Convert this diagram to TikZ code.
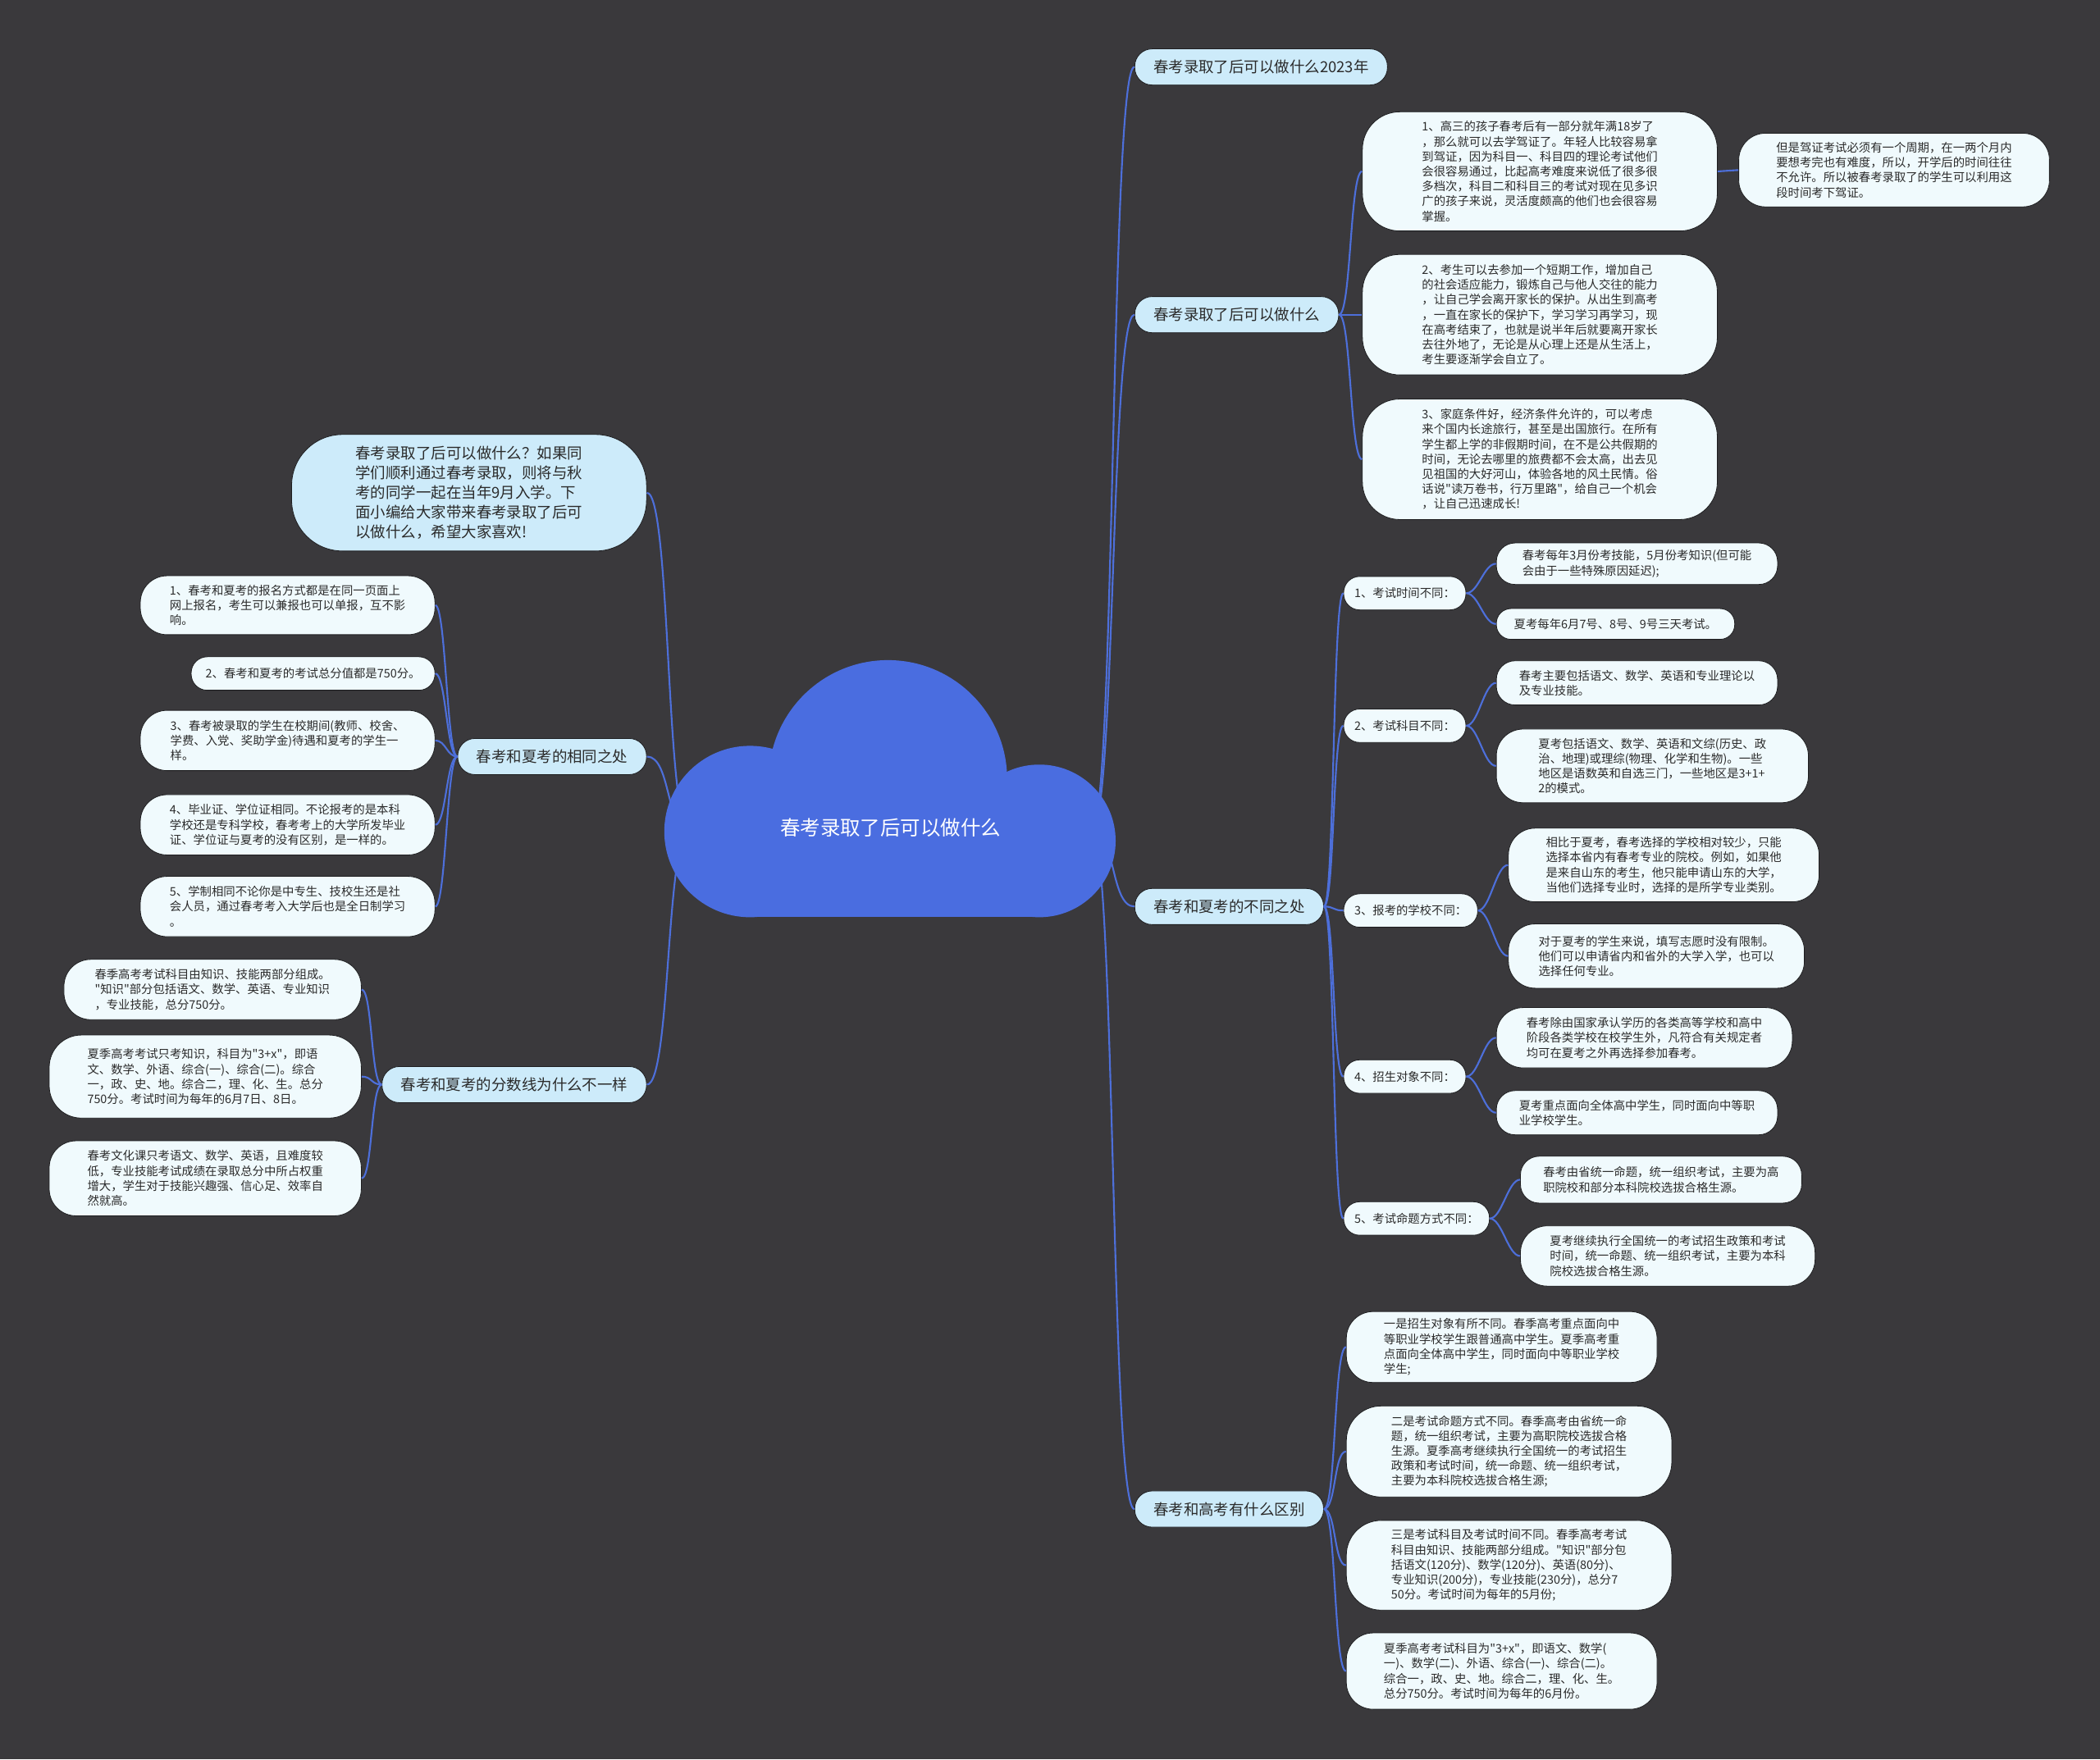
\documentclass[tikz,border=0pt]{standalone}
\usepackage{fontspec}
\newfontfamily\cjk{Noto Sans CJK SC}
\definecolor{bg}{HTML}{3A393C}
\definecolor{ink}{HTML}{2B2B2B}
\definecolor{linkblue}{HTML}{4D6FDA}
\definecolor{cloudblue}{HTML}{4A6DE0}
\definecolor{sky}{HTML}{CDEBFA}
\definecolor{pale}{HTML}{F0FAFD}
\definecolor{rim}{HTML}{1E1E20}

\begin{document}
\begin{tikzpicture}[
  x=1pt, y=-1pt,
  main/.style={fill=sky,draw=rim,line width=.5pt,rounded corners=13,
    inner xsep=14,minimum height=27,text=ink,
    font=\cjk\fontsize{11.3}{14}\selectfont},
  intro/.style={main,align=left,rounded corners=38,
    font=\cjk\fontsize{11.3}{14.8}\selectfont},
  leaf/.style={fill=pale,draw=rim,line width=.5pt,rounded corners=20,
    align=left,inner xsep=6,inner ysep=5,text=ink,
    font=\cjk\fontsize{8.8}{11.15}\selectfont},
  sub/.style={leaf,rounded corners=12,minimum height=25,inner xsep=8},
  link/.style={draw=linkblue,line width=1.3pt}
]
  \fill[bg] (0,0) rectangle (1568,1314);
  \useasboundingbox (0,0) rectangle (1568,1314);

  % right side
  \node[main,anchor=west] (r1) at (847,50) {春考录取了后可以做什么2023年};
  \node[main,anchor=west] (r2) at (847,235) {春考录取了后可以做什么};
  \node[main,anchor=west] (r3) at (847,677) {春考和夏考的不同之处};
  \node[main,anchor=west] (r4) at (847,1127) {春考和高考有什么区别};

  \node[leaf,anchor=west,minimum width=265,minimum height=89,rounded corners=28] (a1) at (1017,128)
    {1、高三的孩子春考后有一部分就年满18岁了\\，那么就可以去学驾证了。年轻人比较容易拿\\到驾证，因为科目一、科目四的理论考试他们\\会很容易通过，比起高考难度来说低了很多很\\多档次，科目二和科目三的考试对现在见多识\\广的孩子来说，灵活度颇高的他们也会很容易\\掌握。};
  \node[leaf,anchor=west,minimum width=232,minimum height=55] (a1b) at (1298,127)
    {但是驾证考试必须有一个周期，在一两个月内\\要想考完也有难度，所以，开学后的时间往往\\不允许。所以被春考录取了的学生可以利用这\\段时间考下驾证。};
  \node[leaf,anchor=west,minimum width=265,minimum height=90,rounded corners=28] (a2) at (1017,235)
    {2、考生可以去参加一个短期工作，增加自己\\的社会适应能力，锻炼自己与他人交往的能力\\，让自己学会离开家长的保护。从出生到高考\\，一直在家长的保护下，学习学习再学习，现\\在高考结束了，也就是说半年后就要离开家长\\去往外地了，无论是从心理上还是从生活上，\\考生要逐渐学会自立了。};
  \node[leaf,anchor=west,minimum width=265,minimum height=90,rounded corners=28] (a3) at (1017,343)
    {3、家庭条件好，经济条件允许的，可以考虑\\来个国内长途旅行，甚至是出国旅行。在所有\\学生都上学的非假期时间，在不是公共假期的\\时间，无论去哪里的旅费都不会太高，出去见\\见祖国的大好河山，体验各地的风土民情。俗\\话说"读万卷书，行万里路"，给自己一个机会\\，让自己迅速成长!};

  \node[sub,anchor=west] (d1) at (1003,443) {1、考试时间不同：};
  \node[sub,anchor=west] (d2) at (1003,542) {2、考试科目不同：};
  \node[sub,anchor=west] (d3) at (1003,680) {3、报考的学校不同：};
  \node[sub,anchor=west] (d4) at (1003,804) {4、招生对象不同：};
  \node[sub,anchor=west] (d5) at (1003,910) {5、考试命题方式不同：};

  \node[leaf,anchor=west,minimum width=210,minimum height=31,rounded corners=14] (d1a) at (1117,421)
    {春考每年3月份考技能，5月份考知识(但可能\\会由于一些特殊原因延迟);};
  \node[leaf,anchor=west,minimum width=178,minimum height=23,rounded corners=11] (d1b) at (1117,466)
    {夏考每年6月7号、8号、9号三天考试。};
  \node[leaf,anchor=west,minimum width=210,minimum height=33,rounded corners=14] (d2a) at (1117,510)
    {春考主要包括语文、数学、英语和专业理论以\\及专业技能。};
  \node[leaf,anchor=west,minimum width=233,minimum height=55] (d2b) at (1117,572)
    {夏考包括语文、数学、英语和文综(历史、政\\治、地理)或理综(物理、化学和生物)。一些\\地区是语数英和自选三门，一些地区是3+1+\\2的模式。};
  \node[leaf,anchor=west,minimum width=232,minimum height=55] (d3a) at (1126,646)
    {相比于夏考，春考选择的学校相对较少，只能\\选择本省内有春考专业的院校。例如，如果他\\是来自山东的考生，他只能申请山东的大学，\\当他们选择专业时，选择的是所学专业类别。};
  \node[leaf,anchor=west,minimum width=221,minimum height=48] (d3b) at (1126,714)
    {对于夏考的学生来说，填写志愿时没有限制。\\他们可以申请省内和省外的大学入学，也可以\\选择任何专业。};
  \node[leaf,anchor=west,minimum width=221,minimum height=45] (d4a) at (1117,775)
    {春考除由国家承认学历的各类高等学校和高中\\阶段各类学校在校学生外，凡符合有关规定者\\均可在夏考之外再选择参加春考。};
  \node[leaf,anchor=west,minimum width=210,minimum height=33,rounded corners=14] (d4b) at (1117,831)
    {夏考重点面向全体高中学生，同时面向中等职\\业学校学生。};
  \node[leaf,anchor=west,minimum width=210,minimum height=35,rounded corners=14] (d5a) at (1135,881)
    {春考由省统一命题，统一组织考试，主要为高\\职院校和部分本科院校选拔合格生源。};
  \node[leaf,anchor=west,minimum width=220,minimum height=45] (d5b) at (1135,938)
    {夏考继续执行全国统一的考试招生政策和考试\\时间，统一命题、统一组织考试，主要为本科\\院校选拔合格生源。};

  \node[leaf,anchor=west,minimum width=232,minimum height=53] (b1) at (1005,1006)
    {一是招生对象有所不同。春季高考重点面向中\\等职业学校学生跟普通高中学生。夏季高考重\\点面向全体高中学生，同时面向中等职业学校\\学生;};
  \node[leaf,anchor=west,minimum width=243,minimum height=68,rounded corners=26] (b2) at (1005,1084)
    {二是考试命题方式不同。春季高考由省统一命\\题，统一组织考试，主要为高职院校选拔合格\\生源。夏季高考继续执行全国统一的考试招生\\政策和考试时间，统一命题、统一组织考试，\\主要为本科院校选拔合格生源;};
  \node[leaf,anchor=west,minimum width=243,minimum height=67,rounded corners=26] (b3) at (1005,1169)
    {三是考试科目及考试时间不同。春季高考考试\\科目由知识、技能两部分组成。"知识"部分包\\括语文(120分)、数学(120分)、英语(80分)、\\专业知识(200分)，专业技能(230分)，总分7\\50分。考试时间为每年的5月份;};
  \node[leaf,anchor=west,minimum width=232,minimum height=57] (b4) at (1005,1248)
    {夏季高考考试科目为"3+x"，即语文、数学(\\一)、数学(二)、外语、综合(一)、综合(二)。\\综合一，政、史、地。综合二，理、化、生。\\总分750分。考试时间为每年的6月份。};

  % left side
  \node[intro,anchor=east,minimum width=265,minimum height=87] (l0) at (483,368)
    {春考录取了后可以做什么？如果同\\学们顺利通过春考录取，则将与秋\\考的同学一起在当年9月入学。下\\面小编给大家带来春考录取了后可\\以做什么，希望大家喜欢!};
  \node[main,anchor=east] (l1) at (483,565) {春考和夏考的相同之处};
  \node[main,anchor=east] (l2) at (483,810) {春考和夏考的分数线为什么不一样};

  \node[leaf,anchor=east,minimum width=220,minimum height=44] (s1) at (325,452)
    {1、春考和夏考的报名方式都是在同一页面上\\网上报名，考生可以兼报也可以单报，互不影\\响。};
  \node[leaf,anchor=east,minimum width=182,minimum height=25,rounded corners=12] (s2) at (325,503)
    {2、春考和夏考的考试总分值都是750分。};
  \node[leaf,anchor=east,minimum width=220,minimum height=45] (s3) at (325,553)
    {3、春考被录取的学生在校期间(教师、校舍、\\学费、入党、奖助学金)待遇和夏考的学生一\\样。};
  \node[leaf,anchor=east,minimum width=220,minimum height=45] (s4) at (325,616)
    {4、毕业证、学位证相同。不论报考的是本科\\学校还是专科学校，春考考上的大学所发毕业\\证、学位证与夏考的没有区别，是一样的。};
  \node[leaf,anchor=east,minimum width=220,minimum height=45] (s5) at (325,677)
    {5、学制相同不论你是中专生、技校生还是社\\会人员，通过春考考入大学后也是全日制学习\\。};

  \node[leaf,anchor=east,minimum width=222,minimum height=45] (f1) at (270,739)
    {春季高考考试科目由知识、技能两部分组成。\\"知识"部分包括语文、数学、英语、专业知识\\，专业技能，总分750分。};
  \node[leaf,anchor=east,minimum width=233,minimum height=62,rounded corners=24] (f2) at (270,804)
    {夏季高考考试只考知识，科目为"3+x"，即语\\文、数学、外语、综合(一)、综合(二)。综合\\一，政、史、地。综合二，理、化、生。总分\\750分。考试时间为每年的6月7日、8日。};
  \node[leaf,anchor=east,minimum width=233,minimum height=56] (f3) at (270,880)
    {春考文化课只考语文、数学、英语，且难度较\\低，专业技能考试成绩在录取总分中所占权重\\增大，学生对于技能兴趣强、信心足、效率自\\然就高。};

  % connectors
  \coordinate (hubR) at (815,620);
  \coordinate (hubL) at (515,620);
  \foreach \n in {r1,r2,r3,r4}
    \draw[link] (hubR) .. controls +(18,0) and +(-18,0) .. (\n.west);
  \foreach \n in {l0,l1,l2}
    \draw[link] (hubL) .. controls +(-18,0) and +(18,0) .. (\n.east);
  \foreach \n in {a1,a2,a3}
    \draw[link] (r2.east) .. controls +(9,0) and +(-9,0) .. (\n.west);
  \draw[link] (a1.east) -- (a1b.west);
  \foreach \n in {d1,d2,d3,d4,d5}
    \draw[link] (r3.east) .. controls +(8,0) and +(-8,0) .. (\n.west);
  \foreach \p/\c in {d1/d1a,d1/d1b,d2/d2a,d2/d2b,d3/d3a,d3/d3b,d4/d4a,d4/d4b,d5/d5a,d5/d5b}
    \draw[link] (\p.east) .. controls +(9,0) and +(-9,0) .. (\c.west);
  \foreach \n in {b1,b2,b3,b4}
    \draw[link] (r4.east) .. controls +(9,0) and +(-9,0) .. (\n.west);
  \foreach \n in {s1,s2,s3,s4,s5}
    \draw[link] (l1.west) .. controls +(-8,0) and +(8,0) .. (\n.east);
  \foreach \n in {f1,f2,f3}
    \draw[link] (l2.west) .. controls +(-8,0) and +(8,0) .. (\n.east);

  % cloud
  \fill[cloudblue] (663,582) circle[radius=89];
  \fill[cloudblue] (560,621) circle[radius=64];
  \fill[cloudblue] (776,628) circle[radius=57];
  \fill[cloudblue] (560,600) rectangle (776,685);
  \node[text=white,font=\cjk\fontsize{15}{18}\selectfont] (hub) at (665,618)
    {春考录取了后可以做什么};
\end{tikzpicture}
\end{document}
